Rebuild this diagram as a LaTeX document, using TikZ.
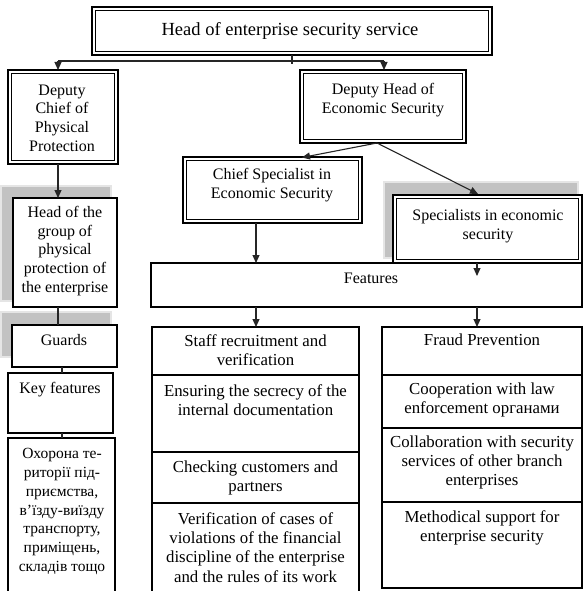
\documentclass[tikz,border=0pt]{standalone}
\usepackage{fontspec}
\setmainfont{Liberation Serif}
\usetikzlibrary{arrows.meta}

% inner thin rule of a double-framed box
\newcommand{\innerrule}[1]{%
  \draw[line width=0.8pt] ([shift={(3.6,3.6)}]#1.north west) rectangle ([shift={(-3.6,-3.6)}]#1.south east);}
% soft grey drop shadow lying up-left of a box
\newcommand{\softshadow}[5]{%
  \fill[black!10] ([shift={(#2-2,#3-2)}]#1.north west) rectangle ([shift={(#4+2,#5+2)}]#1.south east);
  \fill[black!24] ([shift={(#2,#3)}]#1.north west) rectangle ([shift={(#4,#5)}]#1.south east);}

\begin{document}
\begin{tikzpicture}[x=1pt,y=-1pt,
  frame/.style={draw=black, line width=1.2pt, inner sep=0pt, outer sep=0pt, fill=white},
  dframe/.style={frame, line width=2pt},
  lbl/.style={inner sep=0pt, align=center, font=\fontsize{16}{18.6}\selectfont},
  biglbl/.style={inner sep=0pt, align=center, font=\fontsize{18.5}{20}\selectfont},
  celllbl/.style={inner sep=0pt, align=center, font=\fontsize{16.8}{19.3}\selectfont},
  uklbl/.style={inner sep=0pt, align=center, font=\fontsize{15.5}{18.8}\selectfont},
  conn/.style={line width=1.1pt, black!85},
  arr/.style={conn, -{Triangle[length=8pt,width=7pt]}}]

\useasboundingbox (0,0) rectangle (584,591);

% ---------- shadows (drawn first, boxes cover them) ----------
\path (65,252.5) node[minimum width=104pt, minimum height=109pt, inner sep=0pt] (hgs) {};
\path (64.5,346) node[minimum width=105pt, minimum height=42pt, inner sep=0pt] (gds) {};
\path (487.5,229) node[minimum width=189pt, minimum height=68pt, inner sep=0pt] (sps) {};
\softshadow{hgs}{-11}{-11}{-7}{-7}
\softshadow{gds}{-10}{-12}{-7}{-11}
\softshadow{sps}{-8}{-12}{-5}{-6}

% ---------- management levels ----------
\node[dframe, minimum width=400pt, minimum height=48pt] (head) at (292,31) {};
\innerrule{head}
\node[biglbl] (headt) at (290,31) {Head of enterprise security service};

\node[dframe, minimum width=110pt, minimum height=94pt] (dchief) at (63,117) {};
\innerrule{dchief}
\node[lbl] (dchieft) at (62,118) {Deputy\\Chief of\\Physical\\Protection};

\node[dframe, minimum width=166pt, minimum height=73pt] (dhead) at (383,106.5) {};
\innerrule{dhead}
\node[lbl] (dheadt) at (383,100) {Deputy Head of\\Economic Security};

\node[dframe, minimum width=179pt, minimum height=66pt] (chief) at (272.5,190) {};
\innerrule{chief}
\node[lbl] (chieft) at (272,185) {Chief Specialist in\\Economic Security};

\node[dframe, line width=2.8pt, minimum width=189pt, minimum height=68pt] (spec) at (487.5,229) {};
\innerrule{spec}
\node[lbl] (spect) at (488,226) {Specialists in economic\\security};

% ---------- physical protection branch ----------
\node[frame, minimum width=104pt, minimum height=109pt] (hgroup) at (65,252.5) {};
\node[lbl] (hgroupt) at (65,251) {Head of the\\group of\\physical\\protection of\\the enterprise};

\node[frame, minimum width=105pt, minimum height=42pt] (guards) at (64.5,346) {};
\node[lbl] (guardst) at (64,340) {Guards};

\node[frame, minimum width=105pt, minimum height=60pt] (keyf) at (60.5,403) {};
\node[lbl] (keyft) at (60,390) {Key features};

\node[frame, minimum width=107pt, minimum height=160pt] (ukr) at (61.5,518) {};
\node[uklbl] (ukrt) at (62,511.5) {Охорона те-\\риторії під-\\приємства,\\в'їзду-виїзду\\транспорту,\\приміщень,\\складів тощо};

% ---------- features ----------
\node[frame, minimum width=431pt, minimum height=44pt] (feat) at (366.5,285) {};
\node[lbl] (featt) at (371,278) {Features};

% middle column
\node[frame, minimum width=207pt, minimum height=48pt] (m1) at (255.5,351) {};
\node[frame, minimum width=207pt, minimum height=77pt] (m2) at (255.5,413.5) {};
\node[frame, minimum width=207pt, minimum height=51pt] (m3) at (255.5,477.5) {};
\node[frame, minimum width=207pt, minimum height=95pt] (m4) at (255.5,550.5) {};
\node[celllbl] (m1t) at (255.5,350) {Staff recruitment and\\verification};
\node[celllbl] (m2t) at (255.5,400) {Ensuring the secrecy of the\\internal documentation};
\node[celllbl] (m3t) at (255.5,478) {Checking customers and\\partners};
\node[celllbl] (m4t) at (255.5,547.5) {Verification of cases of\\violations of the financial\\discipline of the enterprise\\and the rules of its work};

% right column
\node[frame, minimum width=200pt, minimum height=48pt] (r1) at (482,351) {};
\node[frame, minimum width=200pt, minimum height=53pt] (r2) at (482,401.5) {};
\node[frame, minimum width=200pt, minimum height=74pt] (r3) at (482,465) {};
\node[frame, minimum width=200pt, minimum height=86pt] (r4) at (482,545) {};
\node[celllbl] (r1t) at (482,340) {Fraud Prevention};
\node[celllbl] (r2t) at (482,400) {Cooperation with law\\enforcement органами};
\node[celllbl] (r3t) at (482,462.5) {Collaboration with security\\services of other branch\\enterprises};
\node[celllbl] (r4t) at (482,528) {Methodical support for\\enterprise security};

% ---------- connectors ----------
\coordinate (hl) at (58,61);
\coordinate (hr) at (384,61);
\draw[conn] (head.south) -- ++(0,9);
\draw[conn] (hl) -- (hr);
\draw[arr] (hl) -- (hl |- dchief.north);
\draw[arr] (hr) -- (hr |- dhead.north);

\coordinate (dhout) at (377,143);
\draw[arr] (dhout) -- (302,157.5);
\draw[arr] (dhout) -- (478,194);

\coordinate (cx) at (256,0);
\draw[arr] (cx |- chief.south) -- (cx |- feat.north);
\coordinate (sx) at (477,0);
\draw[arr] (sx |- feat.north) -- ([yshift=-13pt]sx |- spec.south);
\draw[arr] (cx |- feat.south) -- (cx |- m1.north);
\draw[arr] (sx |- feat.south) -- (sx |- r1.north);

\coordinate (px) at (58,0);
\coordinate (qx) at (62,0);
\draw[arr] (px |- dchief.south) -- (px |- hgroup.north);
\draw[conn] (px |- hgroup.south) -- (px |- guards.north);
\draw[conn] (qx |- guards.south) -- (qx |- keyf.north);
\draw[conn] (qx |- keyf.south) -- (qx |- ukr.north);
\end{tikzpicture}
\end{document}
